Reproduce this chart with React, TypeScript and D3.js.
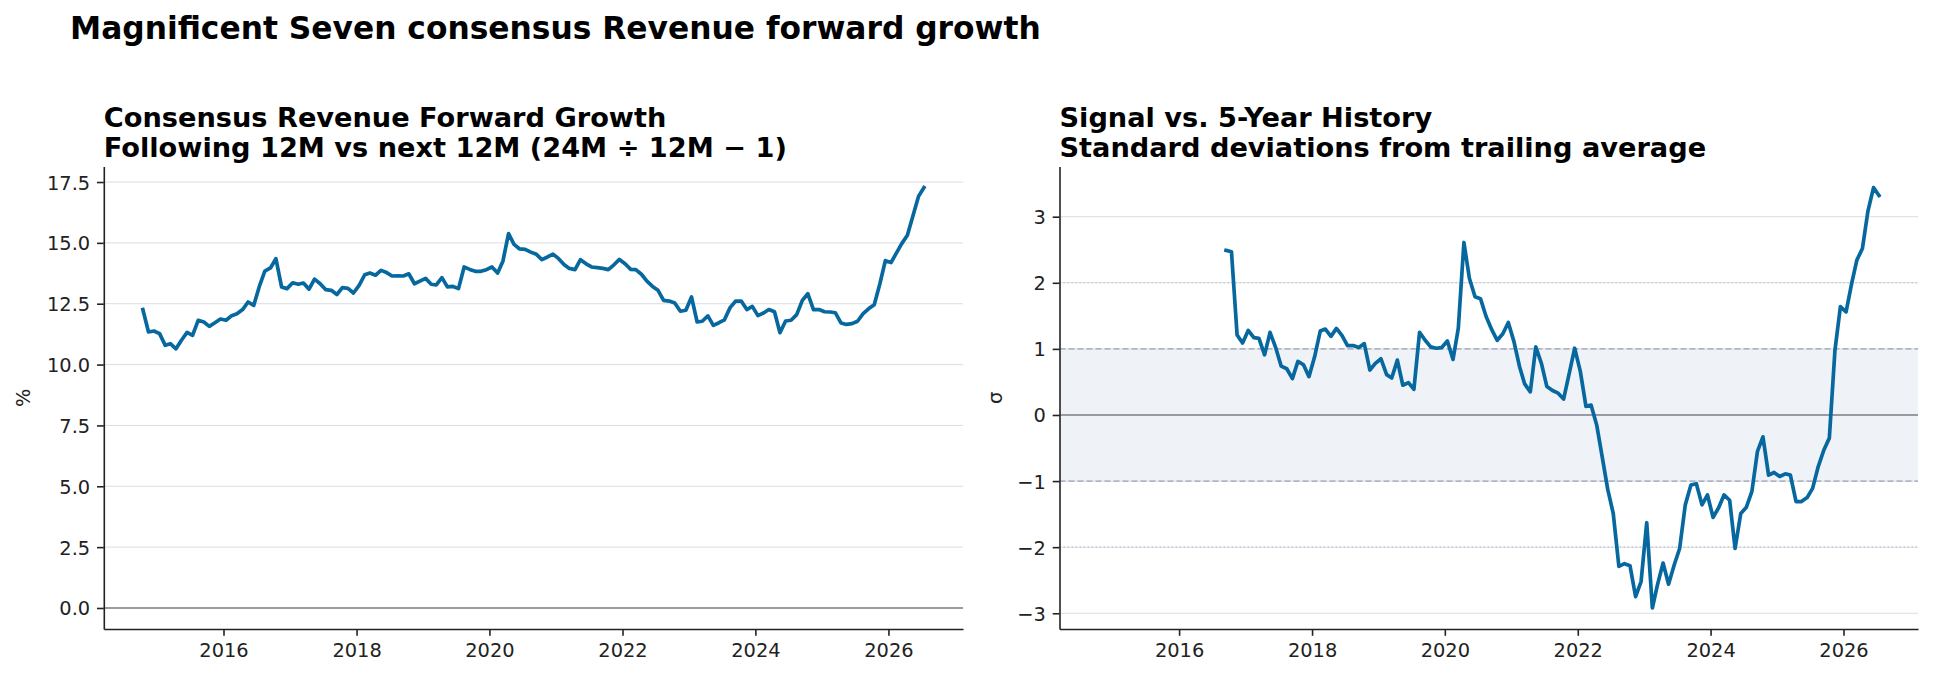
import React, { useEffect, useRef } from "react";
import * as d3 from "d3";

// monthly observations, first month given, one value per month
const GROWTH_START = "2014-10";
const growthPct = [
  12.26, 11.34, 11.38, 11.27, 10.79, 10.86, 10.65, 11.0, 11.32, 11.2,
  11.82, 11.75, 11.57, 11.72, 11.87, 11.82, 12.01, 12.09, 12.26, 12.57,
  12.43, 13.19, 13.84, 13.97, 14.35, 13.19, 13.12, 13.36, 13.3, 13.35,
  13.1, 13.51, 13.32, 13.08, 13.05, 12.88, 13.16, 13.13, 12.94, 13.25,
  13.69, 13.76, 13.67, 13.87, 13.78, 13.64, 13.65, 13.64, 13.73, 13.32,
  13.43, 13.54, 13.3, 13.27, 13.57, 13.19, 13.21, 13.12, 14.01, 13.91,
  13.83, 13.83, 13.9, 14.01, 13.76, 14.25, 15.38, 14.94, 14.75, 14.73,
  14.62, 14.53, 14.31, 14.42, 14.54, 14.35, 14.1, 13.95, 13.9, 14.31,
  14.14, 14.01, 13.98, 13.95, 13.9, 14.1, 14.32, 14.14, 13.91, 13.9,
  13.71, 13.43, 13.21, 13.05, 12.64, 12.61, 12.53, 12.19, 12.23, 12.78,
  11.75, 11.78, 12.0, 11.61, 11.72, 11.84, 12.34, 12.61, 12.61, 12.26,
  12.39, 12.01, 12.12, 12.26, 12.17, 11.31, 11.79, 11.82, 12.05, 12.64,
  12.91, 12.26, 12.26, 12.17, 12.16, 12.13, 11.71, 11.65, 11.68, 11.78,
  12.09, 12.3, 12.46, 13.32, 14.27, 14.19, 14.6, 14.97, 15.31, 16.09,
  16.91, 17.27,
];

const SIGMA_START = "2016-09";
const sigmaZ = [
  2.49, 2.47, 1.21, 1.09, 1.28, 1.17, 1.16, 0.91, 1.25, 1.02,
  0.74, 0.7, 0.55, 0.81, 0.76, 0.58, 0.88, 1.27, 1.3, 1.19,
  1.31, 1.2, 1.05, 1.05, 1.02, 1.08, 0.68, 0.78, 0.85, 0.61,
  0.56, 0.83, 0.45, 0.49, 0.39, 1.25, 1.13, 1.03, 1.01, 1.02,
  1.12, 0.84, 1.31, 2.61, 2.07, 1.79, 1.76, 1.49, 1.29, 1.13,
  1.23, 1.4, 1.11, 0.73, 0.47, 0.35, 1.03, 0.78, 0.43, 0.37,
  0.33, 0.24, 0.63, 1.01, 0.66, 0.13, 0.15, -0.15, -0.63, -1.13,
  -1.49, -2.29, -2.25, -2.28, -2.75, -2.52, -1.63, -2.92, -2.57, -2.24,
  -2.56, -2.27, -2.02, -1.36, -1.06, -1.04, -1.36, -1.21, -1.55, -1.4,
  -1.21, -1.29, -2.02, -1.49, -1.4, -1.16, -0.55, -0.33, -0.91, -0.87,
  -0.93, -0.89, -0.91, -1.31, -1.31, -1.25, -1.11, -0.78, -0.53, -0.35,
  0.98, 1.64, 1.56, 1.99, 2.34, 2.52, 3.08, 3.44, 3.32,
];

const yearTicks = [2016, 2018, 2020, 2022, 2024, 2026];
const growthTicks = [0, 2.5, 5, 7.5, 10, 12.5, 15, 17.5];
const sigmaTicks = [-3, -2, -1, 0, 1, 2, 3];

const SUPTITLE = "Magnificent Seven consensus Revenue forward growth";
const growthTitle = ["Consensus Revenue Forward Growth", "Following 12M vs next 12M (24M ÷ 12M − 1)"];
const sigmaTitle = ["Signal vs. 5-Year History", "Standard deviations from trailing average"];

const FONT = "DejaVu Sans";
const LINE = "#07689f";
const INK = "#222";

const monthly = (start, values) => {
  const [y, m] = start.split("-").map(Number);
  return values.map((v, i) => ({ date: new Date(y, m - 1 + i, 15), value: v }));
};

const App = () => {
  const ref = useRef(null);

  useEffect(() => {
    const svg = d3.select(ref.current);
    svg.selectAll("*").remove();

    const growth = monthly(GROWTH_START, growthPct);
    const sigma = monthly(SIGMA_START, sigmaZ);

    // shared x, matplotlib-like 5% margins
    const t0 = +growth[0].date;
    const t1 = +growth[growth.length - 1].date;
    const pad = (t1 - t0) * 0.05;

    svg.append("text")
      .attr("x", 70)
      .attr("y", 38.5)
      .attr("font-family", FONT)
      .attr("font-weight", "bold")
      .attr("font-size", 31.3)
      .attr("fill", "#000")
      .text(SUPTITLE);

    const drawPanel = (box, data, yDomain, yTicks, fmt, ylabel, title, extras) => {
      const x = d3.scaleTime()
        .domain([new Date(t0 - pad), new Date(t1 + pad)])
        .range([box.x0, box.x1]);
      const y = d3.scaleLinear().domain(yDomain).range([box.y1, box.y0]);
      const g = svg.append("g");

      extras(g, x, y);

      // grid
      g.selectAll(".grid")
        .data(yTicks)
        .enter().append("line")
        .attr("x1", box.x0)
        .attr("x2", box.x1)
        .attr("y1", d => y(d))
        .attr("y2", d => y(d))
        .attr("stroke", "#dcdde4")
        .attr("stroke-width", 1);

      if (box.refLines) box.refLines(g, x, y);

      g.append("line")
        .attr("x1", box.x0).attr("x2", box.x1)
        .attr("y1", y(0)).attr("y2", y(0))
        .attr("stroke", "#7e808b")
        .attr("stroke-width", 1.7);

      g.append("path")
        .datum(data)
        .attr("fill", "none")
        .attr("stroke", LINE)
        .attr("stroke-width", 3.7)
        .attr("stroke-linejoin", "round")
        .attr("stroke-linecap", "square")
        .attr("d", d3.line().x(d => x(d.date)).y(d => y(d.value)));

      const xAxis = g.append("g")
        .attr("transform", `translate(0,${box.y1})`)
        .call(d3.axisBottom(x)
          .tickValues(yearTicks.map(yr => new Date(yr, 0, 1)))
          .tickFormat(d3.timeFormat("%Y"))
          .tickSize(6.8)
          .tickSizeOuter(0)
          .tickPadding(6.8));

      const yAxis = g.append("g")
        .attr("transform", `translate(${box.x0},0)`)
        .call(d3.axisLeft(y)
          .tickValues(yTicks)
          .tickFormat(fmt)
          .tickSize(6.8)
          .tickSizeOuter(0)
          .tickPadding(6.8));

      [xAxis, yAxis].forEach(a => {
        a.select(".domain").attr("stroke", INK).attr("stroke-width", 1.6);
        a.selectAll(".tick line").attr("stroke", INK).attr("stroke-width", 1.6);
        a.selectAll(".tick text")
          .attr("font-family", FONT)
          .attr("font-size", 19.4)
          .attr("fill", INK);
      });
      xAxis.selectAll(".tick text").attr("dy", "0.76em");
      yAxis.selectAll(".tick text").attr("dy", "0.36em");

      g.append("text")
        .attr("transform", `translate(${box.labelX},${(box.y0 + box.y1) / 2}) rotate(-90)`)
        .attr("text-anchor", "middle")
        .attr("font-family", FONT)
        .attr("font-size", 19.4)
        .attr("fill", INK)
        .text(ylabel);

      g.selectAll(".title")
        .data(title)
        .enter().append("text")
        .attr("x", box.x0)
        .attr("y", (d, i) => 126.5 + i * 30.5)
        .attr("font-family", FONT)
        .attr("font-weight", "bold")
        .attr("font-size", 27.2)
        .attr("fill", "#000")
        .text(d => d);
    };

    const gMax = d3.max(growthPct);
    drawPanel(
      { x0: 103.8, x1: 963, y0: 166.6, y1: 629, labelX: 30 },
      growth,
      [-0.05 * gMax, gMax * 1.05],
      growthTicks,
      d3.format(".1f"),
      "%",
      growthTitle,
      () => {}
    );

    const [sMin, sMax] = d3.extent(sigmaZ);
    const sPad = (sMax - sMin) * 0.05;
    drawPanel(
      {
        x0: 1059.5, x1: 1918, y0: 166.6, y1: 629, labelX: 1002,
        refLines: (g, x, y) => {
          [-2, 2].forEach(v => g.append("line")
            .attr("x1", 1059.5).attr("x2", 1918)
            .attr("y1", y(v)).attr("y2", y(v))
            .attr("stroke", "#b9c2d1")
            .attr("stroke-width", 1.1)
            .attr("stroke-dasharray", "1.5,2.5"));
          [-1, 1].forEach(v => g.append("line")
            .attr("x1", 1059.5).attr("x2", 1918)
            .attr("y1", y(v)).attr("y2", y(v))
            .attr("stroke", "#98a1b2")
            .attr("stroke-width", 1.4)
            .attr("stroke-dasharray", "6,3"));
        },
      },
      sigma,
      [sMin - sPad, sMax + sPad],
      sigmaTicks,
      d3.format("d"),
      "σ",
      sigmaTitle,
      (g, x, y) => {
        g.append("rect")
          .attr("x", 1059.5)
          .attr("width", 1918 - 1059.5)
          .attr("y", y(1))
          .attr("height", y(-1) - y(1))
          .attr("fill", "#eff3f8");
      }
    );
  }, []);

  return (
    <svg
      ref={ref}
      width={1934}
      height={679}
      style={{ position: "absolute", left: 0, top: 0, background: "#fff" }}
    />
  );
};

export default App;
